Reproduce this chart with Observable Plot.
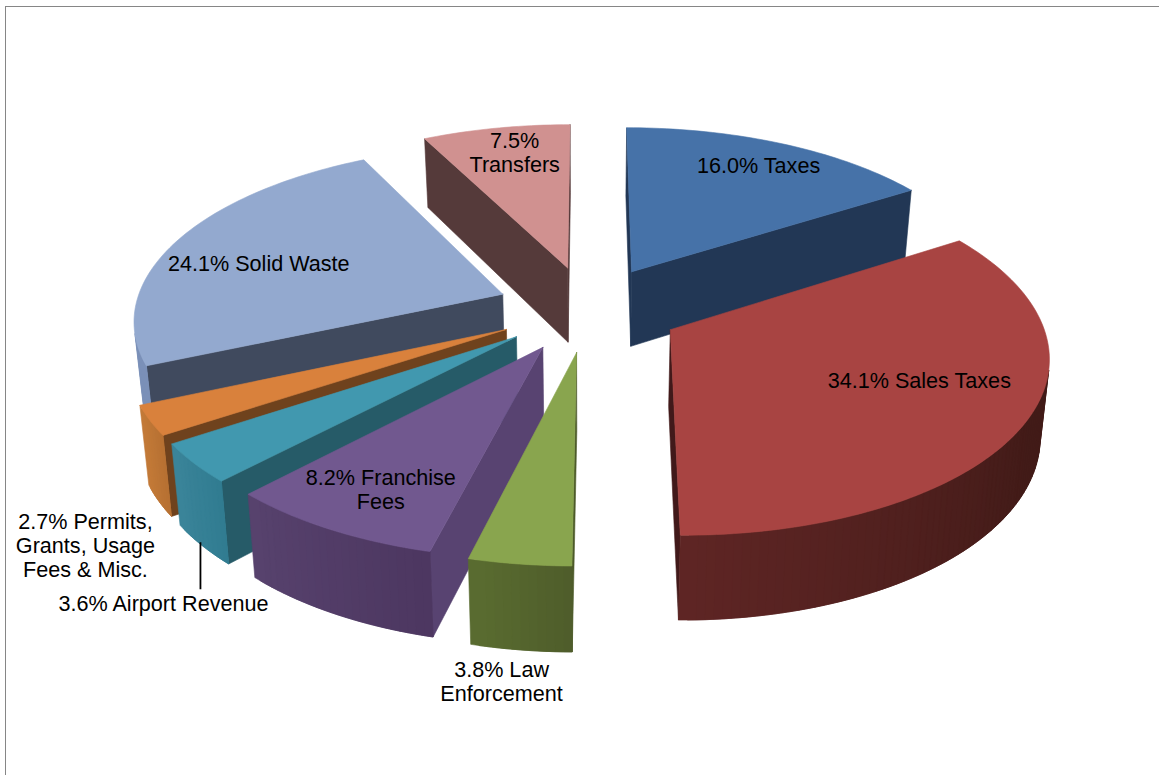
<!DOCTYPE html>
<html>
<head>
<meta charset="utf-8">
<script src="https://cdn.jsdelivr.net/npm/d3@7"></script>
<script src="https://cdn.jsdelivr.net/npm/@observablehq/plot@0.6"></script>
<style>
  html, body { margin: 0; padding: 0; background: #fff; overflow: hidden; }
  #chart { position: relative; width: 1159px; height: 775px; }
  #chart::before { content: ""; position: absolute; left: 5px; top: 6px; right: 0; bottom: 0;
    border-top: 1.5px solid #868686; border-left: 1.5px solid #868686; }
  #chart svg { position: absolute; left: 0; top: 0; }
</style>
</head>
<body>
<div id="chart"></div>
<script>
// Revenue sources, clockwise from twelve o'clock
const sources = ["Taxes", "Sales Taxes", "Law Enforcement", "Franchise Fees", "Airport Revenue", "Permits", "Solid Waste", "Transfers"];
const shares = [16.0, 34.1, 3.8, 8.2, 3.6, 2.7, 24.1, 7.5];
const labels = [
  "16.0% Taxes", "34.1% Sales Taxes", "3.8% Law\nEnforcement", "8.2% Franchise\nFees",
  "3.6% Airport Revenue", "2.7% Permits,\nGrants, Usage\nFees & Misc.", "24.1% Solid Waste", "7.5%\nTransfers"
];

// Face colours of each wedge
const topColors = ["#4672a8", "#a84442", "#89a54e", "#71588f", "#4198af", "#d9813c", "#93a9cf", "#d09190"];
const wallColors = ["#223755", "#41191a", "#4d5b2a", "#584371", "#265b68", "#6f421d", "#404a5e", "#553a3a"];
const rimColors = [
  ["#223755", "#223755"], ["#421b18", "#421b18", "#5e2524"], ["#4d5b2a", "#5a6c30"], ["#4c3660", "#57426d"],
  ["#2f7b90", "#3b8499"], ["#b56f32", "#c37a37"], ["#7b90b8", "#7b90b8"], ["#553a3a", "#553a3a"]
];

// Label placement relative to each wedge's inner corner
const labelOffsetX = [127, 249, -75, -162, -353, -421, -244, -53];
const labelOffsetY = [-107, 51, 329, 142, 267, 216, -31, -116];

// View of the tilted pie
const view = {cx: 588, cy: 308, radius: 368, explode: 92, tilt: 0.468, perspective: 0.00036, depth: 76, floorScale: 0.98};

const rad = (deg) => (deg * Math.PI) / 180;

function project(X, Y, down) {
  const f = 1 / (1 + view.perspective * Y);
  const thick = down ? view.depth / (1 + 0.7 * view.perspective * Y) : 0;
  const inset = down ? view.floorScale : 1;
  return [view.cx + X * f * inset, view.cy - Y * view.tilt * f + thick];
}

// Wedge angles from the cumulative shares
let running = 0;
const wedges = shares.map((share, i) => {
  const a0 = (running / 100) * 360;
  running += share;
  const a1 = (running / 100) * 360;
  const mid = (a0 + a1) / 2;
  return {i, a0, a1, mid, ox: view.explode * Math.sin(rad(mid)), oy: view.explode * Math.cos(rad(mid))};
});

const rim = (w, a, down) =>
  project(w.ox + view.radius * Math.sin(rad(a)), w.oy + view.radius * Math.cos(rad(a)), down);
const hub = (w, down) => project(w.ox, w.oy, down);

// Polygons are emitted farthest wedge first so nearer wedges paint over
const vertices = [];
let faceId = 0;
function addFace(points, color) {
  const id = faceId++;
  for (const [x, y] of [...points, points[0]]) vertices.push({x, y, id, color});
}

for (const w of d3.sort(wedges, (w) => -Math.cos(rad(w.mid)))) {
  const steps = Math.max(2, Math.ceil((w.a1 - w.a0) / 1.2));
  const angles = d3.range(steps + 1).map((k) => w.a0 + ((w.a1 - w.a0) * k) / steps);
  const top = [hub(w), ...angles.map((a) => rim(w, a))];
  const sign = Math.sign(d3.polygonArea(top));
  const shade = d3.piecewise(d3.interpolateRgb, rimColors[w.i]);
  const isFacing = (quad) => Math.sign(d3.polygonArea(quad)) !== sign;
  const wallA = [hub(w), rim(w, w.a0), rim(w, w.a0, true), hub(w, true)];
  const wallB = [rim(w, w.a1), hub(w), hub(w, true), rim(w, w.a1, true)];
  if (isFacing(wallA)) addFace(wallA, wallColors[w.i]);
  if (isFacing(wallB)) addFace(wallB, wallColors[w.i]);
  // Each rim strip reaches over the next one's edge, so no seams show between them
  const order = d3.range(steps);
  for (const k of order) {
    const a = angles[k], b = angles[k + 1];
    if (!isFacing([rim(w, a), rim(w, b), rim(w, b, true), rim(w, a, true)])) continue;
    const reach = k > 0 && isFacing([rim(w, angles[k - 1]), rim(w, a), rim(w, a, true), rim(w, angles[k - 1], true)]) ? angles[k - 1] : a;
    addFace([rim(w, reach), rim(w, a), rim(w, b), rim(w, b, true), rim(w, a, true), rim(w, reach, true)],
      d3.color(shade((k + 0.5) / steps)).formatHex());
  }
  addFace(top, topColors[w.i]);
}

const textRows = wedges.map((w) => {
  const [hx, hy] = hub(w);
  return {text: labels[w.i], x: hx + labelOffsetX[w.i], y: hy + labelOffsetY[w.i], source: sources[w.i]};
});

// Leader from the airport wedge down to its label
const airport = textRows[sources.indexOf("Airport Revenue")];
const leader = [{x: airport.x + 37, y1: airport.y - 61, y2: airport.y - 14}];

const chart = Plot.plot({
  width: 1159,
  height: 775,
  margin: 0,
  x: {domain: [0, 1159], range: [0, 1159], axis: null},
  y: {domain: [0, 775], range: [0, 775], axis: null},
  color: {type: "identity"},
  style: {background: "transparent"},
  marks: [
    Plot.line(vertices, {x: "x", y: "y", z: "id", fill: "color", stroke: "color", strokeWidth: 0.6, curve: "linear"}),
    Plot.ruleX(leader, {x: "x", y1: "y1", y2: "y2", stroke: "#000", strokeWidth: 1.8}),
    Plot.text(textRows, {
      x: "x", y: "y", text: "text", fill: "#000", fontSize: 21.6, lineHeight: 1.11,
      fontFamily: "Liberation Sans, Arial, sans-serif", textAnchor: "middle"
    })
  ]
});
document.getElementById("chart").append(chart);
</script>
</body>
</html>
